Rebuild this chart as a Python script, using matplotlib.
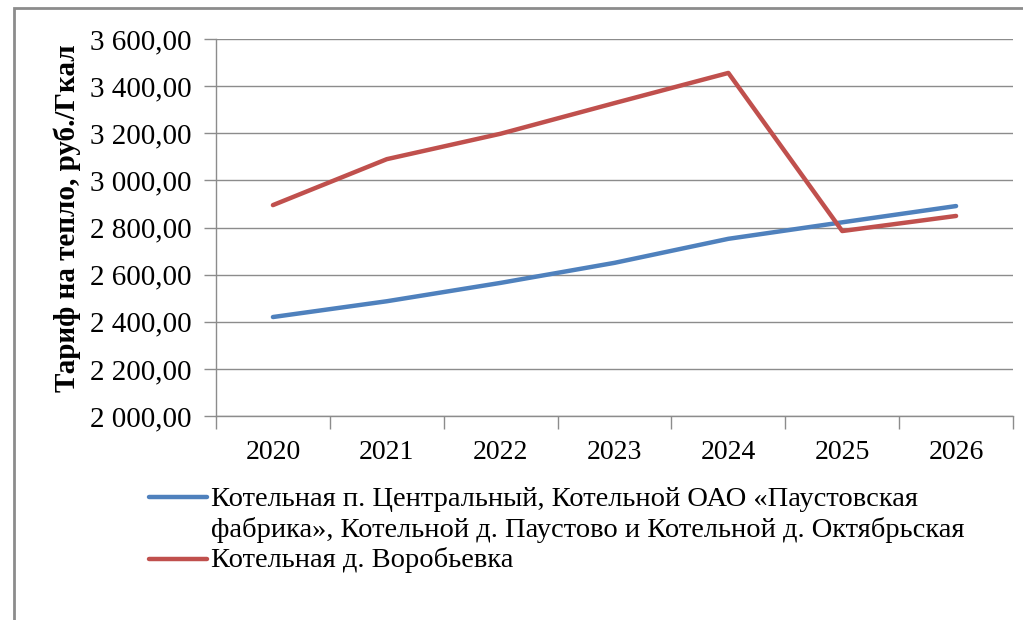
import matplotlib
matplotlib.use("Agg")
import matplotlib.pyplot as plt
from matplotlib.lines import Line2D
from matplotlib.patches import Rectangle
from matplotlib.ticker import FuncFormatter, FixedLocator

years = ["2020", "2021", "2022", "2023", "2024", "2025", "2026"]
blue_vals = [2420, 2487, 2565, 2650, 2752, 2822, 2891]
red_vals = [2895, 3090, 3198, 3328, 3456, 2785, 2849]
blue_label = ("Котельная п. Центральный, Котельной ОАО «Паустовская\n"
              "фабрика», Котельной д. Паустово и Котельной д. Октябрьская")
red_label = "Котельная д. Воробьевка"
y_label = "Тариф на тепло, руб./Гкал"

W, H = 1023, 620
fig = plt.figure(figsize=(W / 100, H / 100), dpi=100)
serif = ["Liberation Serif", "DejaVu Serif"]

# outer frame
fig.add_artist(Rectangle((14 / W, -0.05), 1.1, 1 - 8 / H + 0.05,
                         transform=fig.transFigure, fill=False,
                         edgecolor="#8c8c8c", linewidth=2))

ax = fig.add_axes([216 / W, 1 - 416 / H, (1013 - 216) / W, (416 - 39) / H])
x = list(range(len(years)))
ax.plot(x, blue_vals, color="#4F81BD", linewidth=3.2, solid_capstyle="round")
ax.plot(x, red_vals, color="#C0504D", linewidth=3.2, solid_capstyle="round")

ax.set_xlim(-0.5, len(years) - 0.5)
ax.set_ylim(2000, 3600)
ax.set_yticks(range(2000, 3601, 200))
ax.yaxis.set_major_formatter(FuncFormatter(
    lambda v, p: f"{v:,.2f}".replace(",", " ").replace(".", ",")))
ax.set_xticks(x)
ax.set_xticklabels(years)
ax.xaxis.set_minor_locator(FixedLocator([i - 0.5 for i in range(len(years) + 1)]))
ax.tick_params(axis="x", which="major", length=0, pad=17)
ax.tick_params(axis="x", which="minor", length=9, color="#8c8c8c", width=1)
ax.tick_params(axis="y", length=9, color="#8c8c8c", width=1, pad=8.5)
for lab in ax.get_xticklabels():
    lab.set_fontfamily(serif)
    lab.set_fontsize(20)
for lab in ax.get_yticklabels():
    lab.set_fontfamily(serif)
    lab.set_fontsize(21)

ax.grid(axis="y", color="#8c8c8c", linewidth=1)
ax.set_axisbelow(True)
for s in ["top", "right"]:
    ax.spines[s].set_visible(False)
for s in ["left", "bottom"]:
    ax.spines[s].set_color("#8c8c8c")
    ax.spines[s].set_linewidth(1)

fig.text(67 / W, 1 - 218 / H, y_label, rotation=90, ha="center", va="center",
         fontsize=21, fontweight="bold", family=serif)

# legend
for (yy, col) in [(497, "#4F81BD"), (559, "#C0504D")]:
    fig.add_artist(Line2D([149 / W, 207 / W], [1 - yy / H, 1 - yy / H],
                          transform=fig.transFigure, color=col, linewidth=3.2,
                          solid_capstyle="round"))
for line, base in zip(blue_label.split("\n"), [506, 537]):
    fig.text(211 / W, 1 - base / H, line, ha="left", va="baseline",
             fontsize=20.5, family=serif)
fig.text(211 / W, 1 - 567 / H, red_label, ha="left", va="baseline",
         fontsize=20.5, family=serif)

fig.savefig("out.png", dpi=100)
